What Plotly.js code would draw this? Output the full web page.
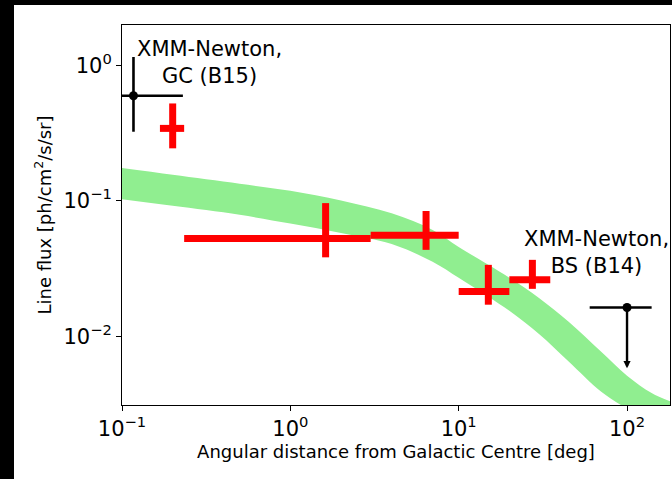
<!DOCTYPE html>
<html><head><meta charset="utf-8">
<script src="https://cdn.plot.ly/plotly-3.0.1.min.js"></script>
<style>
html,body{margin:0;padding:0;background:#000;width:672px;height:479px;overflow:hidden}
#chart{position:absolute;left:14px;top:5px;width:658px;height:474px;background:#fff}
</style></head><body><div id="chart"></div>
<script>
// Predicted line-flux band (upper and lower envelope) vs angular distance
const bandX     = [0.1, 0.2, 0.5, 1, 2, 4, 7, 10, 15, 20, 30, 45, 70, 100, 140, 180];
const bandUpper = [0.175, 0.156, 0.134, 0.119, 0.101, 0.081, 0.061, 0.0457, 0.0337, 0.027, 0.0192, 0.0128, 0.0077, 0.0051, 0.0038, 0.0033];
const bandLower = [0.103, 0.092, 0.079, 0.068, 0.058, 0.048, 0.0355, 0.027, 0.0196, 0.0154, 0.0104, 0.0065, 0.0039, 0.0029, 0.0022, 0.0019];

// Measured line flux in angular bins
const binX   = [0.2, 1.62, 6.4, 15, 27.4];
const binXLo = [0.168, 0.234, 3.0, 10, 20];
const binXHi = [0.234, 3.0, 10, 20, 35];
const binY   = [0.344, 0.0527, 0.0558, 0.0214, 0.0261];
const binYLo = [0.245, 0.0383, 0.0435, 0.0171, 0.0224];
const binYHi = [0.526, 0.0964, 0.0843, 0.0337, 0.0367];

// XMM-Newton, Galactic Centre (B15)
const gcX = [0.117], gcXLo = [0.06], gcXHi = [0.23];
const gcY = [0.6],   gcYLo = [0.325], gcYHi = [1.16];

// XMM-Newton, blank sky (B14): upper limit
const bsX = [100], bsXLo = [60], bsXHi = [140];
const bsY = [0.0163], bsLimitTip = [0.0058];

// Axis ticks
const xTickVals = [0.1, 1, 10, 100];
const xTickText = ['10<sup>−1</sup>', '10<sup>0</sup>', '10<sup>1</sup>', '10<sup>2</sup>'];
const yTickVals = [0.01, 0.1, 1];
const yTickText = ['10<sup>−2</sup>', '10<sup>−1</sup>', '10<sup>0</sup>'];

const FONT = 'DejaVu Sans, Verdana, sans-serif';
const minus = (v, lo) => v.map((x, i) => x - lo[i]);
const plus  = (v, hi) => v.map((x, i) => hi[i] - x);

const traces = [
  {x: bandX, y: bandLower, mode: 'lines', line: {width: 0, shape: 'spline', color: '#90ee90'},
   hoverinfo: 'skip'},
  {x: bandX, y: bandUpper, mode: 'lines', line: {width: 0, shape: 'spline', color: '#90ee90'},
   fill: 'tonexty', fillcolor: '#90ee90', hoverinfo: 'skip'},
  {x: binX, y: binY, mode: 'markers', marker: {size: 1, color: 'red', opacity: 0},
   error_x: {type: 'data', symmetric: false, array: plus(binX, binXHi), arrayminus: minus(binX, binXLo),
             color: 'red', thickness: 7, width: 0},
   error_y: {type: 'data', symmetric: false, array: plus(binY, binYHi), arrayminus: minus(binY, binYLo),
             color: 'red', thickness: 7, width: 0}},
  {x: gcX, y: gcY, mode: 'markers', marker: {size: 9, color: 'black'},
   error_x: {type: 'data', symmetric: false, array: plus(gcX, gcXHi), arrayminus: minus(gcX, gcXLo),
             color: 'black', thickness: 2.6, width: 0},
   error_y: {type: 'data', symmetric: false, array: plus(gcY, gcYHi), arrayminus: minus(gcY, gcYLo),
             color: 'black', thickness: 2.6, width: 0}},
  {x: bsX, y: bsY, mode: 'markers', marker: {size: 9, color: 'black'},
   error_x: {type: 'data', symmetric: false, array: plus(bsX, bsXHi), arrayminus: minus(bsX, bsXLo),
             color: 'black', thickness: 2.6, width: 0}}
];

const axisCommon = {
  type: 'log', showgrid: false, zeroline: false, showline: true, mirror: true,
  linecolor: 'black', linewidth: 1, ticks: 'outside', ticklen: 5, tickwidth: 1, tickcolor: 'black',
  tickfont: {family: FONT, size: 21, color: 'black'}, tickmode: 'array'
};

const layout = {
  width: 658, height: 474,
  margin: {l: 108, r: 2, t: 20, b: 73.5},
  paper_bgcolor: 'white', plot_bgcolor: 'white', showlegend: false,
  xaxis: Object.assign({}, axisCommon, {
    range: [Math.log10(0.1), Math.log10(180)], tickvals: xTickVals, ticktext: xTickText,
    title: {text: 'Angular distance from Galactic Centre [deg]', font: {family: FONT, size: 18, color: 'black'}, standoff: 5}
  }),
  yaxis: Object.assign({}, axisCommon, {
    range: [Math.log10(0.0031), Math.log10(2)], tickvals: yTickVals, ticktext: yTickText,
    title: {text: 'Line flux [ph/cm<sup>2</sup>/s/sr]', font: {family: FONT, size: 18, color: 'black'}, standoff: 7}
  }),
  annotations: [
    {xref: 'x', yref: 'y', x: Math.log10(0.33), y: Math.log10(1.06), text: 'XMM-Newton,<br>GC (B15)',
     showarrow: false, xanchor: 'center', yanchor: 'middle', font: {family: FONT, size: 21, color: 'black'}},
    {xref: 'x', yref: 'y', x: Math.log10(66), y: Math.log10(0.0417), text: 'XMM-Newton,<br>BS (B14)',
     showarrow: false, xanchor: 'center', yanchor: 'middle', font: {family: FONT, size: 21, color: 'black'}},
    {xref: 'x', yref: 'y', axref: 'x', ayref: 'y',
     x: Math.log10(bsX[0]), y: Math.log10(bsLimitTip[0]),
     ax: Math.log10(bsX[0]), ay: Math.log10(bsY[0]),
     text: '', showarrow: true, arrowhead: 2, arrowsize: 0.6, arrowwidth: 2.4, arrowcolor: 'black', standoff: 0}
  ]
};

Plotly.newPlot('chart', traces, layout, {displayModeBar: false, staticPlot: true});
</script></body></html>
